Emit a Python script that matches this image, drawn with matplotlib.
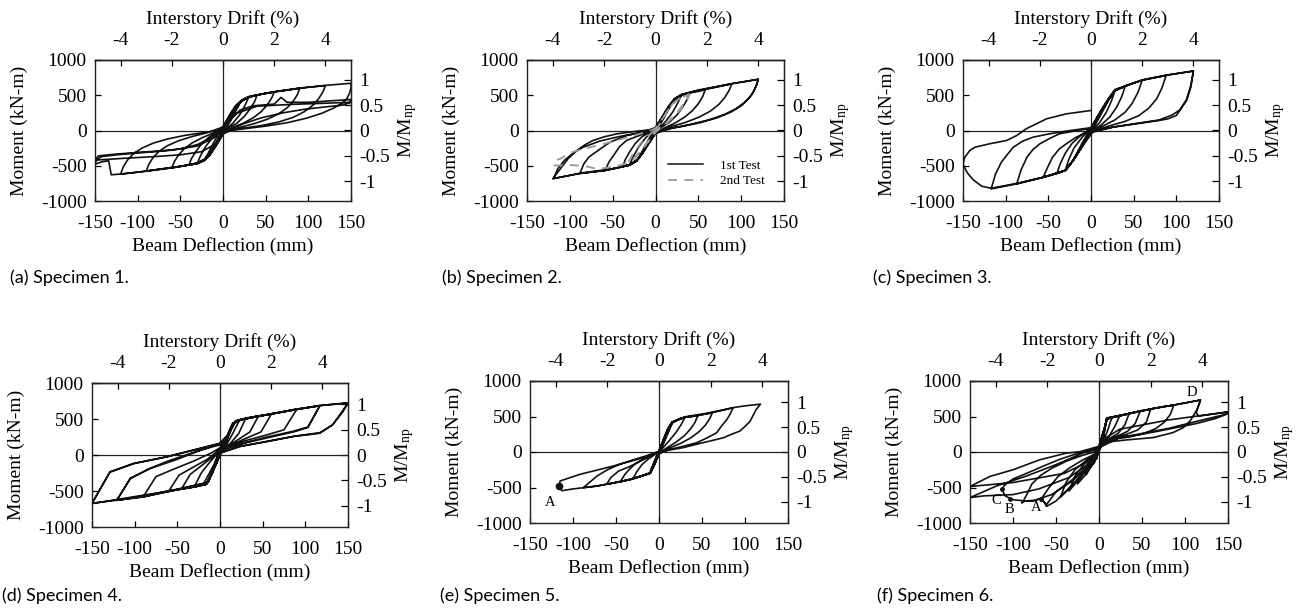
import matplotlib
matplotlib.use("Agg")
import matplotlib.pyplot as plt
from matplotlib.lines import Line2D

plt.rcParams['font.family'] = ['Liberation Serif', 'DejaVu Serif']
plt.rcParams['axes.unicode_minus'] = False
plt.rcParams['mathtext.fontset'] = 'stix'

# ---------------- data: (beam deflection mm, moment kN-m) load histories ----------------
spec1_path = [
    (0, 0), (5, 125), (-5, -120), (10, 245), (-10, -235), (15, 335), (-15, -325), (2, 40),
    (20, 395), (10, 160), (0, -40), (-10, -230), (-20, -385), (-10, -150), (0, 50), (10, 240), (20, 400),
    (25, 440), (30, 468), (26, 360), (20, 230), (12, 110), (4, 20), (0, -40), (-8, -190), (-15, -320),
    (-22, -410), (-30, -458), (-26, -350), (-20, -220), (-12, -100), (-4, -15), (0, 40), (8, 200),
    (15, 335), (22, 420), (30, 470),
    (35, 490), (40, 503), (37, 410), (32, 310), (25, 200), (16, 100), (6, 35), (0, -30), (-8, -190),
    (-15, -320), (-22, -410), (-30, -458), (-35, -478), (-40, -492), (-37, -400), (-32, -300),
    (-25, -190), (-16, -90), (-6, -25), (0, 35), (8, 200), (15, 335), (22, 420), (30, 468), (40, 505),
    (50, 525), (60, 545), (57, 460), (52, 365), (45, 270), (36, 185), (24, 105), (12, 45), (0, -40),
    (-8, -200), (-15, -330), (-22, -415), (-30, -460), (-45, -500), (-60, -530), (-57, -440),
    (-52, -345), (-45, -255), (-36, -175), (-24, -100), (-12, -40), (0, 40), (8, 215), (15, 345),
    (22, 425), (30, 472), (45, 515), (60, 548),
    (75, 572), (90, 598), (87, 505), (82, 410), (75, 320), (65, 235), (52, 160), (36, 95), (18, 40),
    (0, -45), (-8, -205), (-15, -335), (-22, -420), (-30, -465), (-50, -508), (-70, -540), (-90, -575),
    (-87, -480), (-82, -385), (-75, -295), (-65, -215), (-52, -145), (-36, -85), (-18, -30), (0, 50),
    (8, 220), (15, 350), (22, 430), (30, 478), (50, 528), (70, 565), (90, 600),
    (105, 618), (120, 637), (117, 545), (112, 450), (105, 355), (95, 265), (82, 185), (65, 120),
    (45, 70), (22, 30), (5, 0), (0, -50), (-8, -210), (-15, -340), (-22, -425), (-30, -468),
    (-60, -528), (-90, -575), (-105, -598), (-120, -618), (-117, -520), (-112, -420), (-105, -330),
    (-95, -250), (-82, -180), (-65, -120), (-45, -70), (-22, -28), (-5, 0), (0, 55), (8, 225),
    (15, 355), (22, 432), (30, 480), (60, 550), (90, 602), (120, 640),
    (135, 655), (150, 670), (150, 600), (148, 520), (145, 450), (140, 390), (130, 320), (116, 245),
    (98, 175), (75, 110), (50, 62), (25, 25), (5, -5), (0, -55), (-8, -215), (-15, -345), (-22, -428),
    (-30, -470), (-60, -530), (-90, -578), (-120, -618), (-131, -628), (-132, -560), (-134, -430),
    (-142, -445), (-150, -478),
    (-148, -410), (-142, -370), (-125, -345), (-100, -320), (-75, -295), (-50, -260), (-30, -200),
    (-15, -110), (0, 20), (10, 170), (20, 290), (35, 350), (60, 375), (68, 470), (75, 400), (100, 400),
    (150, 440), (148, 390), (140, 360), (120, 335), (95, 300), (70, 250), (45, 180), (25, 100),
    (8, 20), (0, -50), (-10, -200), (-25, -300), (-50, -345), (-80, -370), (-110, -390), (-150, -420),
    (-146, -360), (-130, -340), (-100, -310), (-60, -280), (-30, -220), (-10, -100), (0, 30),
    (15, 240), (40, 345), (80, 370), (150, 400),
]

spec2_test1_path = [
    (0, 0), (5, 110), (-5, -105), (10, 215), (-10, -205), (15, 320), (-15, -310), (20, 410), (10, 180),
    (0, -30), (-10, -215), (-20, -400), (-10, -170), (0, 40), (10, 225), (20, 415),
    (25, 465), (30, 495), (26, 390), (20, 260), (12, 130), (4, 30), (0, -30), (-8, -170), (-15, -300),
    (-22, -420), (-30, -480), (-26, -370), (-20, -240), (-12, -110), (-4, -20), (0, 30), (8, 180),
    (15, 320), (22, 430), (30, 498),
    (35, 515), (40, 530), (37, 440), (32, 335), (25, 220), (16, 115), (6, 40), (0, -30), (-8, -175),
    (-15, -310), (-22, -425), (-30, -485), (-38, -500), (-35, -405), (-30, -300), (-24, -190),
    (-16, -90), (-6, -20), (0, 35), (8, 190), (15, 330), (22, 440), (30, 500), (40, 532),
    (50, 555), (58, 578), (55, 480), (50, 380), (43, 280), (34, 190), (22, 100), (10, 35), (0, -35),
    (-8, -180), (-15, -315), (-22, -430), (-30, -488), (-45, -530), (-59, -567), (-54, -440),
    (-49, -355), (-42, -230), (-34, -142), (-22, -85), (-10, -30), (0, 40), (8, 195), (15, 335),
    (22, 445), (30, 505), (45, 555), (58, 582),
    (75, 625), (89, 662), (86, 570), (81, 470), (74, 370), (64, 275), (51, 190), (35, 115), (17, 50),
    (0, -40), (-8, -185), (-15, -320), (-22, -432), (-30, -490), (-50, -545), (-70, -575), (-88, -605),
    (-84, -480), (-78, -380), (-72.6, -331), (-62, -240), (-53, -165), (-33.5, -71), (-15, -25),
    (0, 40), (8, 200), (15, 340), (22, 450), (30, 508), (50, 575), (70, 620), (89, 665),
    (105, 695), (120, 725), (118, 640), (114, 540), (108, 440), (100, 350), (88, 260), (72, 180),
    (52, 110), (30, 55), (10, 15), (0, -40), (-8, -190), (-15, -325), (-22, -435), (-30, -492),
    (-60, -570), (-90, -612), (-105, -650), (-120, -685), (-111, -543), (-102, -400), (-92, -284),
    (-82, -200), (-73, -142), (-60, -90), (-45, -47), (-25, -15), (0, 20), (8, 170), (15, 320),
    (22, 445), (30, 510), (60, 592), (90, 665), (120, 728), (117, 620), (112, 500), (104, 400),
    (94, 310), (80, 225), (62, 150), (40, 85), (20, 35), (0, -40), (-10, -220), (-20, -400),
    (-30, -490), (-60, -568), (-90, -612), (-119, -680), (-114, -540), (-106, -420), (-96, -320),
    (-85, -240), (-65, -150), (-40, -80), (-15, -25), (0, 0),
]

spec2_test2_path = [
    (0, 0), (8, 150), (15, 300), (22, 400), (30, 470), (40, 515), (36, 420), (30, 310), (22, 200),
    (12, 90), (0, -20), (-10, -180), (-20, -330), (-28, -430), (-40, -490), (-55, -525), (-68, -545),
    (-84, -500), (-100, -490), (-119, -497), (-117, -425), (-111, -400), (-97, -307), (-88, -274),
    (-68, -213), (-45, -140), (-25, -70), (-10, -20), (0, 30), (10, 200), (20, 380), (30, 470),
    (38, 505), (34, 400), (26, 270), (16, 140), (5, 40), (0, -20), (-12, -210), (-25, -400),
    (-32, -455), (-26, -320), (-16, -160), (-5, -40), (0, 10),
]

spec3_path = [
    (0, 0), (5, 110), (-5, -100), (10, 220), (-10, -200), (15, 320), (-15, -300), (20, 420), (10, 190),
    (0, -30), (-10, -210), (-20, -400), (-10, -170), (0, 40), (10, 230), (20, 420),
    (28, 560), (24, 420), (18, 260), (10, 110), (0, -20), (-10, -210), (-20, -400), (-25, -500),
    (-30, -560), (-26, -410), (-20, -250), (-10, -90), (0, 30), (10, 230), (20, 425), (28, 562),
    (35, 600), (40, 625), (36, 480), (30, 330), (22, 190), (12, 80), (0, -25), (-10, -215), (-20, -405),
    (-30, -560), (-37, -600), (-40, -612), (-36, -470), (-30, -320), (-22, -180), (-12, -70), (0, 30),
    (10, 235), (20, 430), (28, 565), (40, 628),
    (53, 686), (60, 710), (55, 540), (48, 380), (40, 260), (28, 150), (15, 70), (0, -20), (-10, -215),
    (-20, -410), (-30, -565), (-45, -630), (-56, -662), (-50, -500), (-45, -378), (-37, -260),
    (-29, -189), (-18, -100), (-8, -40), (0, 30), (10, 240), (20, 435), (28, 570), (45, 655), (60, 712),
    (75, 750), (88, 780), (83, 600), (77, 450), (68, 320), (56, 210), (40, 130), (20, 60), (0, -20),
    (-10, -220), (-20, -410), (-30, -565), (-56, -665), (-75, -720), (-87, -757), (-82, -560),
    (-75, -378), (-68, -270), (-60, -189), (-48, -110), (-37, -47), (-18, -5), (0, 30), (10, 245),
    (20, 440), (28, 575), (60, 715), (88, 782),
    (105, 815), (120, 842), (117, 615), (112, 426), (104, 284), (100, 213), (90, 165), (80, 142),
    (53, 95), (26, 47), (2, -24), (-10, -220), (-20, -412), (-30, -568), (-56, -665), (-87, -757),
    (-117, -828), (-112, -620), (-105, -450), (-98, -340), (-91, -237), (-80, -150), (-68, -95),
    (-50, -50), (-30, -10), (0, 40), (10, 250), (20, 445), (28, 580), (60, 718), (88, 785), (120, 845),
    (117, 640), (112, 440), (104, 290), (95, 220), (80, 150), (53, 100), (26, 50), (0, -20),
    (-10, -220), (-20, -410), (-30, -565), (-56, -662), (-87, -750), (-117, -820), (-128, -790),
    (-138, -700), (-145, -600), (-150, -480), (-148, -380), (-142, -284), (-136, -237), (-119, -189),
    (-99, -142), (-87, -71), (-76, 24), (-52, 166), (-29, 236), (0, 284),
]

spec4_path = [
    (0, 0), (5, 150), (-5, -140), (10, 300), (-10, -280), (15, 420), (5, 120), (-5, -130), (-14, -380),
    (-5, -100), (5, 140), (15, 425),
    (18, 465), (23, 488), (15, 300), (8, 150), (0, 20), (-10, -260), (-16, -400), (-20, -415),
    (-12, -240), (-5, -90), (0, 20), (10, 290), (18, 468), (23, 490),
    (30, 505), (22, 300), (12, 160), (0, 40), (-5, -120), (-12, -330), (-16, -400), (-25, -432),
    (-30, -440), (-22, -250), (-12, -100), (0, 60), (8, 200), (15, 420), (20, 478), (30, 506),
    (40, 530), (45, 540), (35, 320), (22, 220), (10, 130), (0, 50), (-5, -100), (-12, -320),
    (-16, -400), (-30, -445), (-45, -470), (-35, -270), (-22, -150), (-10, -40), (0, 70), (8, 220),
    (15, 425), (20, 480), (45, 542),
    (55, 558), (60, 565), (48, 320), (30, 230), (15, 150), (0, 70), (-5, -80), (-12, -320),
    (-16, -405), (-35, -455), (-55, -490), (-60, -500), (-48, -280), (-30, -160), (-15, -60), (0, 80),
    (8, 230), (15, 430), (25, 495), (60, 568),
    (75, 600), (90, 635), (75, 350), (55, 280), (30, 200), (10, 120), (0, 60), (-5, -80), (-12, -320),
    (-16, -405), (-40, -462), (-65, -510), (-90, -580), (-75, -300), (-55, -200), (-30, -80),
    (-10, 30), (0, 100), (8, 250), (15, 440), (30, 510), (60, 570), (90, 638),
    (105, 662), (117, 683), (103, 381), (86, 320), (60, 250), (30, 170), (10, 100), (0, 50), (-5, -90),
    (-12, -320), (-16, -410), (-55, -495), (-90, -582), (-121, -628), (-105, -330), (-85, -200),
    (-60, -80), (-30, 40), (-10, 110), (0, 140), (8, 260), (15, 445), (30, 512), (60, 572), (90, 632),
    (117, 686), (103, 390), (86, 330), (55, 250), (20, 140), (0, 60), (-14, -380), (-55, -495),
    (-121, -630), (-105, -320), (-80, -180), (-50, -60), (-20, 80), (0, 160), (10, 280), (18, 460),
    (23, 490), (55, 560), (86, 630), (117, 685), (150, 721), (132, 418), (117, 302), (86, 256),
    (55, 186), (23, 116), (0, 23), (-8, -200), (-16, -400), (-55, -490), (-90, -581), (-121, -628),
    (-150, -670), (-129, -233), (-101, -116), (-62, -23), (-23, 93), (0, 163), (10, 290), (18, 470),
    (55, 560), (117, 688), (150, 725), (144, 600), (132, 420), (117, 310), (86, 260), (55, 190),
    (23, 120), (0, 30), (-14, -380), (-60, -500), (-150, -675), (-129, -240), (-101, -120),
    (-62, -25), (0, 160),
]

spec5_path = [
    (0, 0), (5, 150), (-5, -140), (10, 300), (-10, -270), (15, 400), (5, 110), (0, -20), (-5, -160),
    (-10, -290), (-5, -120), (0, 20), (5, 160), (10, 310), (15, 405),
    (22, 450), (30, 485), (26, 390), (20, 280), (12, 160), (4, 50), (0, -20), (-5, -160), (-10, -290),
    (-20, -340), (-30, -372), (-26, -280), (-20, -180), (-12, -95), (-4, -30), (0, 10), (5, 160),
    (10, 310), (15, 410), (22, 460), (30, 488),
    (38, 500), (45, 510), (42, 420), (37, 330), (30, 235), (20, 140), (8, 50), (0, -20), (-5, -160),
    (-10, -292), (-25, -355), (-35, -390), (-45, -420), (-40, -320), (-35, -250), (-28, -170),
    (-18, -100), (-8, -40), (0, 10), (5, 165), (10, 315), (15, 415), (25, 475), (35, 498), (45, 512),
    (52, 530), (62, 552), (59, 470), (54, 380), (47, 290), (37, 200), (25, 120), (10, 45), (0, -20),
    (-5, -165), (-10, -295), (-30, -380), (-45, -420), (-61, -456), (-56, -360), (-47, -268),
    (-35, -210), (-22, -130), (-10, -60), (0, 10), (5, 165), (10, 320), (15, 420), (30, 490),
    (45, 515), (62, 555),
    (75, 590), (86, 622), (83, 540), (79, 459), (73, 370), (67, 271), (56, 200), (44, 131), (28, 80),
    (13, 37), (0, -20), (-5, -170), (-10, -300), (-34, -385), (-55, -440), (-72, -479), (-88, -502),
    (-80, -420), (-72, -338), (-60, -250), (-45, -170), (-30, -110), (-15, -55), (0, 10), (5, 170),
    (10, 320), (15, 420), (30, 495), (55, 545), (75, 595), (86, 625),
    (100, 650), (118, 674), (113, 599), (106, 435), (100, 360), (94, 295), (84, 248), (75, 201),
    (63, 165), (51, 131), (28, 61), (5, 14), (0, -30), (-5, -175), (-10, -300), (-34, -390),
    (-72, -480), (-100, -520), (-113, -545), (-116, -490), (-115, -408), (-92, -315), (-53, -197),
    (-22, -94), (0, 0),
]

spec6_path = [
    (0, 0), (3, 150), (-3, -100), (6, 320), (-6, -160), (9, 450), (4, 200), (0, 50), (-5, -140),
    (-10, -220), (-4, -60), (0, 60), (5, 280), (9, 455),
    (15, 490), (10, 300), (5, 150), (0, 30), (-8, -180), (-15, -320), (-8, -130), (0, 40), (5, 250),
    (9, 460), (15, 492),
    (24, 507), (18, 350), (12, 230), (5, 140), (0, 40), (-8, -170), (-15, -310), (-25, -450),
    (-18, -260), (-10, -120), (0, 30), (5, 240), (9, 465), (24, 510),
    (32, 530), (35, 540), (30, 380), (22, 260), (12, 190), (5, 140), (0, 40), (-8, -160), (-20, -340),
    (-35, -550), (-28, -340), (-18, -180), (-8, -70), (0, 30), (5, 240), (9, 470), (25, 512), (35, 542),
    (48, 577), (42, 400), (33, 290), (20, 215), (8, 170), (3, 100), (0, 40), (-8, -150), (-25, -400),
    (-45, -640), (-38, -420), (-28, -250), (-15, -120), (0, 20), (5, 230), (9, 470), (25, 515),
    (48, 580),
    (60, 600), (55, 420), (45, 310), (30, 240), (12, 190), (5, 120), (0, 40), (-8, -150), (-30, -450),
    (-50, -690), (-61, -767), (-64, -700), (-68, -680), (-66, -640), (-58, -500), (-48, -350),
    (-35, -230), (-20, -120), (-5, -30), (0, 20), (5, 220), (9, 475), (30, 530), (60, 605),
    (75, 640), (87, 660), (83, 530), (76, 420), (66, 330), (52, 260), (35, 210), (15, 180), (5, 130),
    (0, 40), (-8, -140), (-30, -400), (-55, -600), (-75, -680), (-86, -690), (-90, -718), (-88, -690),
    (-84, -600), (-78, -450), (-68, -330), (-55, -230), (-38, -130), (-20, -50), (0, 20), (5, 200),
    (9, 470), (32, 530), (60, 605), (88, 662),
    (100, 690), (118, 732), (117, 695), (114, 599), (106, 437), (98, 343), (86, 273), (63, 203),
    (32, 170), (9, 140), (3, 80), (0, 20), (-10, -160), (-30, -380), (-50, -560), (-61, -740),
    (-68, -657), (-76, -690), (-86, -690), (-100, -672), (-109, -619), (-113, -525), (-110, -470),
    (-100, -380), (-84, -300), (-65, -200), (-45, -100), (-25, -20), (0, 40), (5, 220), (9, 480),
    (32, 532), (60, 607), (88, 665), (118, 732), (113, 554), (116, 507), (130, 530), (149, 563),
    (146, 520), (135, 470), (113, 400), (80, 320), (50, 250), (24, 202), (8, 150), (0, 40),
    (-10, -150), (-35, -360), (-70, -520), (-100, -600), (-134, -618), (-150, -642), (-119, -478),
    (-84, -337), (-49, -173), (-20, -20), (0, 60), (8, 200), (24, 320), (80, 450), (149, 563),
    (149, 535), (113, 430), (80, 330), (24, 202), (0, 60), (-10, -120), (-40, -300), (-100, -430),
    (-150, -486), (-127, -345), (-100, -250), (-69, -110), (-38, -16), (-22, 5), (0, 80),
]

spec5_points = [(-116, -478)]
spec5_labels = ["A"]
spec5_label_xy = [(-127, -708)]
spec6_points = [(-113, -525), (-103, -666), (-68, -657)]
spec6_labels = ["C", "B", "A", "D"]
spec6_label_xy = [(-120, -690), (-104, -805), (-73, -780), (108, 840)]

panel_captions = ["(a) Specimen 1.", "(b) Specimen 2.", "(c) Specimen 3.",
                  "(d) Specimen 4.", "(e) Specimen 5.", "(f) Specimen 6."]
m_np = [720, 722, 722, 707, 702, 702]
mm_per_drift = 30.0
x_ticks = [-150, -100, -50, 0, 50, 100, 150]
y_ticks = [-1000, -500, 0, 500, 1000]
drift_ticks = [-4, -2, 0, 2, 4]
ratio_ticks = [-1, -0.5, 0, 0.5, 1]
ratio_labels = ["-1", "-0.5", "0", "0.5", "1"]

# ---------------- figure ----------------
W, H = 1300, 612
fig = plt.figure(figsize=(W / 100, H / 100), dpi=100)

boxes = [(95, 60, 256, 141), (527, 60, 257, 141), (963, 60, 256, 141),
         (92, 383, 256, 144), (530, 381, 258, 142), (970, 381, 258, 142)]
caption_xy = [(10, 278), (442, 278), (873, 278), (2, 596), (440, 596), (877, 596)]
paths = [spec1_path, spec2_test1_path, spec3_path, spec4_path, spec5_path, spec6_path]

FS_TICK = 14
FS_LAB = 14

for i, (bx, by, bw, bh) in enumerate(boxes):
    ax = fig.add_axes([bx / W, 1 - (by + bh) / H, bw / W, bh / H])
    ax.set_xlim(-150, 150)
    ax.set_ylim(-1000, 1000)
    ax.axhline(0, color='#222222', lw=0.9, zorder=1)
    ax.axvline(0, color='#222222', lw=0.9, zorder=1)
    xs = [p[0] for p in paths[i]]
    ys = [p[1] for p in paths[i]]
    ax.plot(xs, ys, color='#111111', lw=1.2, zorder=3, solid_joinstyle='round')
    if i == 1:
        xs2 = [p[0] for p in spec2_test2_path]
        ys2 = [p[1] for p in spec2_test2_path]
        ax.plot(xs2, ys2, color='#9a9a9a', lw=1.3, ls=(0, (5, 4)), zorder=4)
        handles = [Line2D([], [], color='#111111', lw=1.1),
                   Line2D([], [], color='#9a9a9a', lw=1.3, ls=(0, (5, 4)))]
        ax.legend(handles, ["1st Test", "2nd Test"], loc='lower left',
                  bbox_to_anchor=(0.53, 0.06), frameon=False, fontsize=9.5,
                  handlelength=2.6, handletextpad=1.3, labelspacing=0.25,
                  borderaxespad=0)
    if i == 4:
        ax.plot([p[0] for p in spec5_points], [p[1] for p in spec5_points], 'o',
                color='#111111', ms=4.5, zorder=5)
        for (tx, ty), t in zip(spec5_label_xy, spec5_labels):
            ax.text(tx, ty, t, fontsize=10.5, ha='center', va='center')
    if i == 5:
        ax.plot([p[0] for p in spec6_points], [p[1] for p in spec6_points], 'o',
                color='#111111', ms=2.5, zorder=5)
        for (tx, ty), t in zip(spec6_label_xy, spec6_labels):
            ax.text(tx, ty, t, fontsize=10.5, ha='center', va='center')

    ax.set_xticks(x_ticks)
    ax.set_xticklabels([str(v) for v in x_ticks])
    ax.set_yticks(y_ticks)
    ax.set_yticklabels([str(v) for v in y_ticks])
    ax.tick_params(axis='x', direction='in', length=4, width=0.9, labelsize=FS_TICK, pad=10)
    ax.tick_params(axis='y', direction='in', length=4, width=0.9, labelsize=FS_TICK, pad=6)
    ax.set_xlabel("Beam Deflection (mm)", fontsize=FS_LAB, labelpad=4)
    ax.set_ylabel("Moment (kN-m)", fontsize=FS_LAB, labelpad=9)
    for s in ax.spines.values():
        s.set_linewidth(1.0)
        s.set_color('#222222')

    top = ax.secondary_xaxis('top', functions=(lambda x: x / mm_per_drift,
                                               lambda d: d * mm_per_drift))
    top.set_xticks(drift_ticks)
    top.set_xticklabels([str(v) for v in drift_ticks])
    top.tick_params(direction='in', length=4, width=0.9, labelsize=FS_TICK, pad=8)
    top.set_xlabel("Interstory Drift (%)", fontsize=FS_LAB, labelpad=6)
    top.spines['top'].set_linewidth(1.0)

    mn = m_np[i]
    right = ax.secondary_yaxis('right', functions=(lambda m, mn=mn: m / mn,
                                                   lambda r, mn=mn: r * mn))
    right.set_yticks(ratio_ticks)
    right.set_yticklabels(ratio_labels)
    right.tick_params(direction='in', length=5, width=0.9, labelsize=FS_TICK, pad=6)
    right.set_ylabel(r"M/M$_\mathregular{np}$", fontsize=FS_LAB, labelpad=4)

    cx, cy = caption_xy[i]
    fig.text(cx / W, 1 - cy / H, panel_captions[i], fontsize=13,
             family=['Lato', 'DejaVu Sans'], ha='left', va='center')

fig.savefig("out.png", dpi=100)
